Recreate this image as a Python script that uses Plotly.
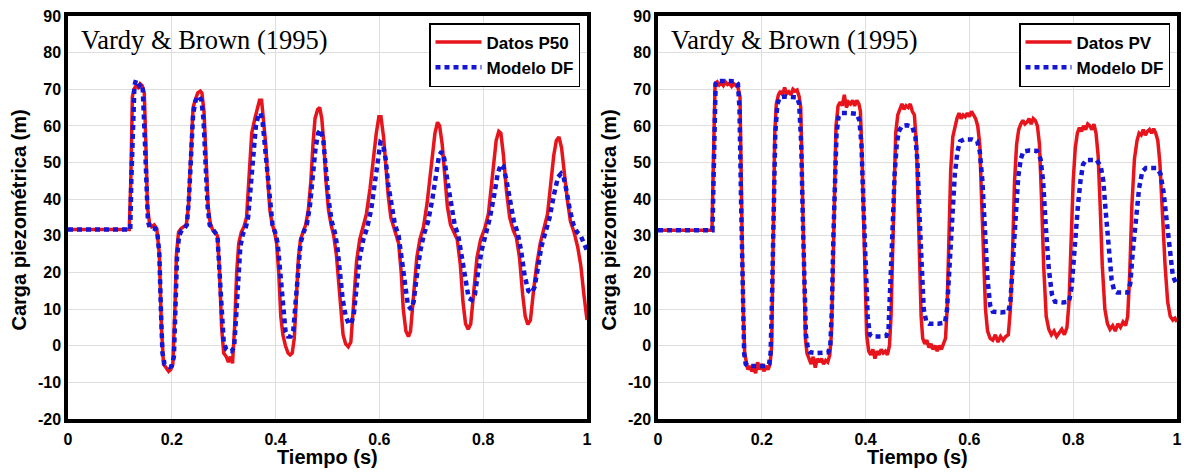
import plotly.graph_objects as go

# ---------------- data ----------------
# Left panel: measured data P50 (red) and model DF (blue)
t_p50 = [0.000, 0.118, 0.121, 0.124, 0.127, 0.131, 0.135, 0.139, 0.143, 0.147, 0.150, 0.153, 0.157, 0.161,
         0.166, 0.171, 0.176, 0.180, 0.184, 0.189, 0.194, 0.198, 0.202, 0.206, 0.209, 0.213, 0.218, 0.223,
         0.228, 0.232, 0.237, 0.241, 0.245, 0.250, 0.255, 0.258, 0.262, 0.266, 0.270, 0.274, 0.279, 0.283,
         0.288, 0.292, 0.296, 0.300, 0.305, 0.309, 0.313, 0.317, 0.321, 0.325, 0.329, 0.334, 0.339, 0.344,
         0.349, 0.354, 0.360, 0.365, 0.369, 0.373, 0.377, 0.381, 0.385, 0.389, 0.393, 0.398, 0.402, 0.406,
         0.410, 0.414, 0.419, 0.424, 0.428, 0.432, 0.436, 0.440, 0.444, 0.448, 0.453, 0.458, 0.463, 0.468,
         0.472, 0.476, 0.481, 0.485, 0.489, 0.493, 0.497, 0.502, 0.507, 0.512, 0.517, 0.521, 0.525, 0.530,
         0.535, 0.540, 0.545, 0.550, 0.556, 0.562, 0.569, 0.575, 0.582, 0.588, 0.594, 0.599, 0.603, 0.608,
         0.612, 0.617, 0.622, 0.630, 0.637, 0.642, 0.646, 0.651, 0.656, 0.660, 0.665, 0.672, 0.678, 0.685,
         0.692, 0.697, 0.702, 0.707, 0.712, 0.716, 0.721, 0.726, 0.731, 0.737, 0.744, 0.750, 0.756, 0.761,
         0.766, 0.771, 0.776, 0.782, 0.788, 0.795, 0.803, 0.810, 0.815, 0.820, 0.825, 0.830, 0.834, 0.839,
         0.845, 0.851, 0.858, 0.864, 0.870, 0.876, 0.881, 0.886, 0.891, 0.897, 0.903, 0.910, 0.917, 0.924,
         0.930, 0.936, 0.941, 0.946, 0.951, 0.957, 0.962, 0.968, 0.975, 0.982, 0.988, 0.994, 1.000]
h_p50 = [31.7, 31.7, 45, 68, 70, 71, 70.5, 71.5, 71, 69, 55, 38, 33.5, 32.5,
         33, 32, 25, 5, -5, -6, -7, -6.5, -5, 10, 25, 31, 32, 32.5,
         33, 38, 55, 65, 67, 69, 69.5, 69, 64, 50, 38, 33.5, 31.5, 31,
         30, 20, 5, -2, -3, -4.5, -3, -4.8, 5, 20, 28, 31, 32.5, 35,
         45, 58, 62, 65, 67, 67, 62, 55, 45, 37, 33.5, 31, 28, 20,
         8, 3, 0, -2, -2.5, -2, 2, 15, 24, 29, 31, 33, 37, 45,
         55, 62, 64.5, 65, 62, 55, 45, 37, 33, 30, 25, 18, 10, 3,
         0.5, -0.3, 1, 10, 23, 29, 32.5, 36, 43, 51, 58, 62.5, 62.5, 57,
         49, 41, 35, 31, 28, 20, 10, 4, 2.5, 4, 13, 24, 29, 32.5,
         39, 46, 53, 58, 61, 60, 55, 46, 38, 33, 31, 29, 22, 12,
         6, 4.5, 6, 15, 24, 29, 32, 36, 43, 51, 56, 58.5, 58, 52,
         42, 35, 31.5, 29.5, 24, 14, 8, 5.8, 7, 15, 22, 28, 32, 36,
         44, 52, 56, 57, 54, 46, 40, 34, 31, 27, 22, 14, 7]

t_df1 = [0.000, 0.120, 0.122, 0.125, 0.128, 0.131, 0.134, 0.138, 0.141, 0.144, 0.147, 0.150, 0.154, 0.158,
         0.163, 0.168, 0.172, 0.176, 0.179, 0.182, 0.186, 0.191, 0.196, 0.200, 0.204, 0.207, 0.210, 0.214,
         0.219, 0.224, 0.229, 0.233, 0.237, 0.241, 0.245, 0.249, 0.253, 0.257, 0.261, 0.265, 0.269, 0.273,
         0.278, 0.283, 0.288, 0.292, 0.296, 0.300, 0.305, 0.310, 0.315, 0.320, 0.324, 0.328, 0.332, 0.337,
         0.342, 0.347, 0.352, 0.357, 0.362, 0.367, 0.371, 0.375, 0.379, 0.384, 0.389, 0.394, 0.399, 0.404,
         0.409, 0.414, 0.419, 0.424, 0.429, 0.434, 0.438, 0.443, 0.448, 0.454, 0.460, 0.466, 0.472, 0.477,
         0.482, 0.487, 0.492, 0.497, 0.502, 0.508, 0.514, 0.519, 0.524, 0.529, 0.535, 0.541, 0.546, 0.551,
         0.556, 0.562, 0.569, 0.576, 0.584, 0.591, 0.597, 0.602, 0.607, 0.612, 0.617, 0.623, 0.630, 0.637,
         0.643, 0.649, 0.655, 0.661, 0.666, 0.672, 0.679, 0.686, 0.694, 0.702, 0.709, 0.715, 0.720, 0.725,
         0.731, 0.738, 0.745, 0.752, 0.759, 0.766, 0.772, 0.778, 0.784, 0.790, 0.797, 0.805, 0.813, 0.821,
         0.828, 0.834, 0.839, 0.845, 0.852, 0.859, 0.866, 0.873, 0.880, 0.887, 0.893, 0.899, 0.905, 0.912,
         0.920, 0.928, 0.936, 0.944, 0.950, 0.955, 0.961, 0.967, 0.974, 0.981, 0.988, 0.994, 1.000]
h_df1 = [31.7, 31.7, 45, 65, 71, 72.5, 72, 71, 71.5, 70, 60, 45, 34, 32,
         32, 32, 31, 25, 10, -2, -5, -5.5, -5.8, -5.5, -3, 10, 24, 30,
         31.5, 32, 33, 40, 52, 63, 66.5, 68, 68, 67, 62, 50, 38, 33,
         32, 31.5, 30, 20, 8, 1, -1, -1.5, -1.5, -0.5, 8, 20, 27, 30.5,
         32, 35, 44, 54, 60, 63, 63.5, 61, 55, 46, 38, 33, 31, 28,
         20, 10, 4, 2.5, 2.5, 4, 12, 22, 28, 31, 33, 38, 47, 54,
         58, 59, 56, 48, 40, 34, 31, 27, 20, 13, 8, 6, 6, 9,
         16, 24, 29, 32, 37, 45, 52, 55.5, 55, 51, 44, 38, 33, 30,
         24, 16, 11, 9.9, 12, 19, 26, 30.5, 34, 40, 47, 52, 53, 51,
         45, 38, 33, 30, 24, 17, 13, 12.5, 14, 20, 26, 30.5, 35, 41,
         47, 49.5, 49, 45, 39, 34, 31, 26, 19, 15, 14.4, 16, 21, 27,
         31, 35, 41, 46, 47, 46, 42, 37, 33, 31, 30, 28, 26]

# Right panel: measured data PV (red) and model DF (blue)
t_pv = [0.000, 0.104, 0.106, 0.108, 0.110, 0.114, 0.118, 0.122, 0.126, 0.130, 0.134, 0.138, 0.142, 0.146,
        0.150, 0.154, 0.158, 0.161, 0.164, 0.167, 0.170, 0.173, 0.177, 0.181, 0.185, 0.188, 0.192, 0.196,
        0.200, 0.204, 0.208, 0.212, 0.216, 0.219, 0.222, 0.225, 0.228, 0.232, 0.236, 0.240, 0.244, 0.248,
        0.252, 0.256, 0.260, 0.264, 0.268, 0.272, 0.275, 0.278, 0.281, 0.284, 0.287, 0.291, 0.295, 0.299,
        0.303, 0.307, 0.311, 0.315, 0.319, 0.323, 0.327, 0.331, 0.334, 0.337, 0.340, 0.343, 0.347, 0.351,
        0.355, 0.359, 0.363, 0.367, 0.371, 0.375, 0.379, 0.383, 0.387, 0.390, 0.393, 0.396, 0.399, 0.402,
        0.406, 0.410, 0.414, 0.418, 0.422, 0.426, 0.430, 0.434, 0.438, 0.442, 0.446, 0.449, 0.452, 0.455,
        0.458, 0.462, 0.466, 0.470, 0.474, 0.478, 0.482, 0.486, 0.490, 0.494, 0.498, 0.501, 0.504, 0.507,
        0.510, 0.514, 0.518, 0.522, 0.526, 0.530, 0.534, 0.538, 0.542, 0.546, 0.550, 0.554, 0.557, 0.560,
        0.564, 0.568, 0.572, 0.576, 0.580, 0.584, 0.588, 0.592, 0.596, 0.600, 0.604, 0.608, 0.612, 0.616,
        0.620, 0.623, 0.627, 0.631, 0.635, 0.640, 0.645, 0.650, 0.655, 0.660, 0.665, 0.670, 0.675, 0.679,
        0.683, 0.687, 0.691, 0.695, 0.699, 0.703, 0.707, 0.711, 0.715, 0.719, 0.723, 0.727, 0.731, 0.735,
        0.739, 0.743, 0.748, 0.753, 0.758, 0.763, 0.768, 0.773, 0.778, 0.783, 0.788, 0.792, 0.796, 0.800,
        0.804, 0.808, 0.812, 0.816, 0.820, 0.824, 0.828, 0.832, 0.836, 0.840, 0.844, 0.848, 0.852, 0.856,
        0.861, 0.866, 0.871, 0.876, 0.881, 0.886, 0.891, 0.896, 0.901, 0.905, 0.909, 0.913, 0.918, 0.923,
        0.927, 0.931, 0.935, 0.939, 0.943, 0.947, 0.951, 0.955, 0.959, 0.963, 0.967, 0.972, 0.977, 0.982,
        0.987, 0.992, 0.996, 1.000]
h_pv = [31.5, 31.5, 45, 62, 71.5, 72, 71.2, 71.8, 71, 72, 71.3, 71.6, 70.8, 71.5,
        71, 70.5, 68, 40, 10, -2, -5, -6.5, -5.5, -7, -6, -7.5, -4.5, -6.5,
        -5, -7, -5.5, -6.5, -5, 0, 30, 58, 66, 68.5, 69.5, 68.5, 70.5, 68.8,
        69.3, 68.5, 70, 69.5, 69.8, 68, 65, 45, 20, 2, -2, -3.5, -5, -3,
        -6, -3.5, -4.5, -3.5, -5, -4, -4.5, -2.5, 3, 20, 45, 60, 65.5, 66.5,
        65.5, 68.5, 65, 66.5, 66, 67, 65.5, 67, 66, 64, 52, 35, 15, 3,
        -1.5, -2.5, -1, -3.5, -1.5, -2.5, -1, -2, -1.5, -2.5, 0, 8, 25, 45,
        58, 63, 64.5, 66, 64.5, 65.5, 65, 66, 64, 63, 55, 40, 22, 8,
        2, 0.5, 1.5, -0.5, 0.5, -1, 0, -1.5, 0, -1, 0.5, 2, 10, 28,
        48, 57, 60, 62, 63.5, 62, 63, 62.5, 63.5, 62.5, 64, 63, 62, 60,
        55, 42, 25, 10, 4, 2, 1.5, 3, 1, 2.5, 1.5, 2.5, 3, 10,
        25, 45, 55, 59, 60.5, 61.5, 60.5, 61, 62, 60.5, 62, 61.5, 60, 55,
        40, 22, 8, 4.5, 3, 4, 2.5, 3.5, 4.5, 3, 5, 12, 28, 45,
        54, 58, 59.5, 58.5, 60, 59, 60.5, 60, 59, 60.5, 58, 52, 38, 22,
        10, 6, 4.5, 5.5, 4, 6, 5, 6.5, 5.5, 8, 20, 38, 51, 56,
        58, 57.5, 59, 57.5, 58.5, 59, 58, 59.2, 58, 56, 50, 35, 22, 12,
        8, 7, 7.5, 6.5]

t_df2 = [0.000, 0.105, 0.107, 0.109, 0.111, 0.114, 0.120, 0.130, 0.140, 0.150, 0.154, 0.157, 0.160, 0.163,
         0.166, 0.169, 0.173, 0.185, 0.200, 0.210, 0.214, 0.217, 0.220, 0.223, 0.226, 0.230, 0.235, 0.245,
         0.260, 0.268, 0.272, 0.276, 0.279, 0.282, 0.285, 0.289, 0.293, 0.305, 0.320, 0.328, 0.332, 0.335,
         0.338, 0.341, 0.344, 0.348, 0.353, 0.370, 0.383, 0.388, 0.392, 0.396, 0.400, 0.404, 0.408, 0.413,
         0.430, 0.440, 0.444, 0.448, 0.452, 0.456, 0.460, 0.464, 0.470, 0.480, 0.490, 0.496, 0.500, 0.504,
         0.508, 0.512, 0.517, 0.522, 0.540, 0.553, 0.557, 0.562, 0.567, 0.572, 0.577, 0.582, 0.590, 0.605,
         0.615, 0.620, 0.625, 0.630, 0.635, 0.640, 0.645, 0.660, 0.675, 0.679, 0.684, 0.689, 0.694, 0.699,
         0.704, 0.715, 0.730, 0.737, 0.742, 0.747, 0.753, 0.759, 0.765, 0.780, 0.792, 0.797, 0.803, 0.809,
         0.814, 0.819, 0.825, 0.845, 0.853, 0.858, 0.863, 0.869, 0.874, 0.879, 0.885, 0.905, 0.910, 0.915,
         0.921, 0.927, 0.933, 0.940, 0.960, 0.968, 0.974, 0.980, 0.986, 0.992, 1.000]
h_df2 = [31.5, 31.5, 45, 65, 71.5, 72.3, 72.3, 72.3, 72.3, 72.2, 71.5, 65, 40, 12,
         -2, -5, -5.5, -5.5, -5.5, -5.5, -5, -2, 15, 40, 58, 66, 67.8, 68,
         68, 67.8, 66, 55, 35, 15, 3, -1, -1.8, -2, -2, -1.8, 0, 10,
         30, 48, 58, 62.5, 63.5, 63.5, 63.3, 61.5, 55, 38, 20, 8, 3, 2.5,
         2.5, 2.7, 4, 15, 32, 47, 55, 58.5, 60, 60.2, 59.8, 57, 50, 35,
         20, 10, 6.5, 6, 6, 6.3, 10, 22, 36, 47, 53, 55.8, 56.3, 56.3,
         55.8, 53, 45, 32, 18, 11, 9.3, 9.1, 9.3, 12, 24, 37, 46, 51,
         53, 53.3, 53.2, 51, 45, 33, 21, 14, 12, 11.8, 12, 16, 28, 38,
         45, 49.5, 50.7, 50.7, 49, 45, 36, 25, 18, 15, 14.5, 14.5, 17, 26,
         36, 43, 47.5, 48.5, 48.5, 47, 42, 34, 25, 19, 16.5]

x_ticks = [0, 0.2, 0.4, 0.6, 0.8, 1]
x_ticklabels = ["0", "0.2", "0.4", "0.6", "0.8", "1"]
y_ticks = [-20, -10, 0, 10, 20, 30, 40, 50, 60, 70, 80, 90]
y_ticklabels = ["-20", "-10", "0", "10", "20", "30", "40", "50", "60", "70", "80", "90"]

panel_title = "Vardy & Brown (1995)"
x_title = "Tiempo (s)"
y_title = "Carga piezométrica (m)"
names_left = ["Datos P50", "Modelo DF"]
names_right = ["Datos PV", "Modelo DF"]

# ---------------- figure ----------------
W, H = 1184, 474
RED = "#e8141c"
BLUE = "#1515d6"
SANS = "Liberation Sans, Arial, sans-serif"

fig = go.Figure()

def add_pair(tr, hr, tb, hb, names, xa, ya, leg):
    fig.add_trace(go.Scatter(x=tr, y=hr, mode="lines", name="<b>%s</b>" % names[0],
                             line=dict(color=RED, width=3.5), xaxis=xa, yaxis=ya,
                             legend=leg, legendgroup=leg + "a"))
    fig.add_trace(go.Scatter(x=tb, y=hb, mode="lines", name="<b>%s</b>" % names[1],
                             line=dict(color=BLUE, width=4.5, dash="5px,4px"), xaxis=xa, yaxis=ya,
                             legend=leg, legendgroup=leg + "b"))

add_pair(t_p50, h_p50, t_df1, h_df1, names_left, "x", "y", "legend")
add_pair(t_pv, h_pv, t_df2, h_df2, names_right, "x2", "y2", "legend2")

ytop, ybot = 16, 419
dom_y = [1 - ybot / H, 1 - ytop / H]
panels = [(68, 587), (658, 1177)]

axis_common = dict(showgrid=True, gridcolor="#dedede", gridwidth=1, showline=True, mirror=True,
                   linecolor="black", linewidth=3.5, zeroline=False, ticks="",
                   tickfont=dict(family=SANS, size=16, color="black", weight="bold"),
                   automargin=False, fixedrange=True)

layout_axes = {}
for i, (xl, xr) in enumerate(panels):
    sfx = "" if i == 0 else str(i + 1)
    layout_axes["xaxis" + sfx] = dict(axis_common, domain=[xl / W, xr / W], range=[0, 1],
                                      tickvals=x_ticks, ticktext=x_ticklabels,
                                      ticklabelstandoff=3, anchor="y" + sfx)
    layout_axes["yaxis" + sfx] = dict(axis_common, domain=dom_y, range=[-20, 90],
                                      tickvals=y_ticks, ticktext=y_ticklabels,
                                      anchor="x" + sfx)

annotations = []
for i, (xl, xr) in enumerate(panels):
    annotations.append(dict(text=panel_title, xref="paper", yref="paper",
                            x=(xl + 11) / W, y=1 - 40 / H, xanchor="left", yanchor="middle",
                            showarrow=False,
                            font=dict(family="Liberation Serif, Times New Roman, serif", size=26.5,
                                      color="black")))
    annotations.append(dict(text="<b>%s</b>" % x_title, xref="paper", yref="paper",
                            x=(xl + xr) / 2 / W, y=1 - 457 / H, xanchor="center", yanchor="middle",
                            showarrow=False, font=dict(family=SANS, size=20, color="black")))
    annotations.append(dict(text="<b>%s</b>" % y_title, xref="paper", yref="paper",
                            x=(xl - 50) / W, y=1 - (ytop + ybot + 6) / 2 / H, xanchor="center",
                            yanchor="middle", textangle=-90,
                            showarrow=False, font=dict(family=SANS, size=20, color="black")))

legend_common = dict(bordercolor="black", borderwidth=1.5, bgcolor="white",
                     font=dict(family=SANS, size=17, color="black"),
                     xanchor="right", yanchor="top", y=1 - 23 / H, tracegroupgap=0,
                     itemwidth=46)

fig.update_layout(
    width=W, height=H,
    margin=dict(l=0, r=0, t=0, b=0),
    paper_bgcolor="white", plot_bgcolor="white",
    showlegend=True,
    legend=dict(legend_common, x=580 / W),
    legend2=dict(legend_common, x=1170 / W),
    annotations=annotations,
    **layout_axes,
)

fig.write_html("out.html", config={"displayModeBar": False},
               post_script="document.body.style.margin='0';")
